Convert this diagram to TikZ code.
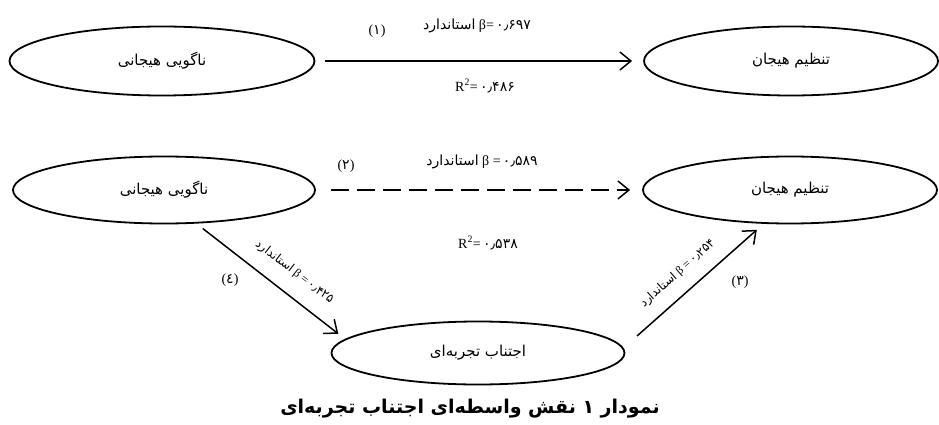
\documentclass[tikz,border=0pt]{standalone}
\usepackage{fontspec}
\setmainfont{Liberation Serif}
\newfontfamily\fa[Script=Arabic]{DejaVu Sans}
\TeXXeTstate=1
\usetikzlibrary{shapes.geometric,arrows.meta}
\begin{document}
\begin{tikzpicture}[x=1pt,y=-1pt,
  concept/.style={ellipse, draw, line width=1.8pt, inner sep=0pt,
    font=\fa\fontsize{15}{17}\selectfont},
  link/.style={line width=1.5pt,
    -{Straight Barb[length=11pt,width=18pt,line width=1.5pt]}},
  lbl/.style={inner sep=1pt, font=\fontsize{14}{16}\selectfont},
  slbl/.style={inner sep=1pt, font=\fontsize{12}{14}\selectfont, sloped},
  num/.style={inner sep=1pt, font=\fontsize{14}{16}\selectfont},
  captext/.style={inner sep=1pt, font=\fa\bfseries\fontsize{19}{21}\selectfont},
]
\useasboundingbox (0,0) rectangle (939,425);

% concepts
\node[concept, minimum width=305pt, minimum height=69pt] (L1) at (162,61) {\beginR ناگویی هیجانی\endR};
\node[concept, minimum width=294pt, minimum height=69pt] (R1) at (791,61) {\beginR تنظیم هیجان\endR};
\node[concept, minimum width=302pt, minimum height=67pt] (L2) at (164,190) {\beginR ناگویی هیجانی\endR};
\node[concept, minimum width=294pt, minimum height=67pt] (R2) at (790,190) {\beginR تنظیم هیجان\endR};
\node[concept, minimum width=293pt, minimum height=63pt] (M) at (478,353) {\beginR اجتناب تجربه‌ای\endR};

% connectors
\draw[link, shorten <=10pt, shorten >=11pt] (L1.east) -- (R1.west);
\draw[link, dash pattern=on 18pt off 8pt, shorten <=15pt, shorten >=12pt] (L2.east) -- (R2.west);
\draw[link, shorten <=8pt, shorten >=8.5pt] (L2.-46) -- (M.174.6)
  node[slbl, pos=0.57, above=14pt] {{\fa استاندارد}\ β =\,{\fa ۰٫۴۲۵}};
\draw[link, shorten <=18pt, shorten >=9pt] (M.2.4) -- (R2.-128.4)
  node[slbl, pos=0.48, above=12pt] {{\fa استاندارد}\ β =\,{\fa ۰٫۲۵۴}};

% labels
\node[num] (n1) at (377,31) {({\fa ۱})};
\node[lbl] (b1) at (477,26) {{\fa استاندارد}\ β=\,{\fa ۰٫۶۹۷}};
\node[lbl] (r1) at (485,86) {R\textsuperscript{2}=\,{\fa ۰٫۴۸۶}};

\node[num] (n2) at (346,166) {({\fa ۲})};
\node[lbl] (b2) at (482,162) {{\fa استاندارد}\ β =\,{\fa ۰٫۵۸۹}};
\node[lbl] (r2) at (488,243) {R\textsuperscript{2}=\,{\fa ۰٫۵۳۸}};

\node[num] (n4) at (230,280) {({\fa ٤})};
\node[num] (n3) at (740,282) {({\fa ۳})};

\node[captext] (caption) at (470,409) {\beginR نمودار ۱ نقش واسطه‌ای اجتناب تجربه‌ای\endR};
\end{tikzpicture}
\end{document}
